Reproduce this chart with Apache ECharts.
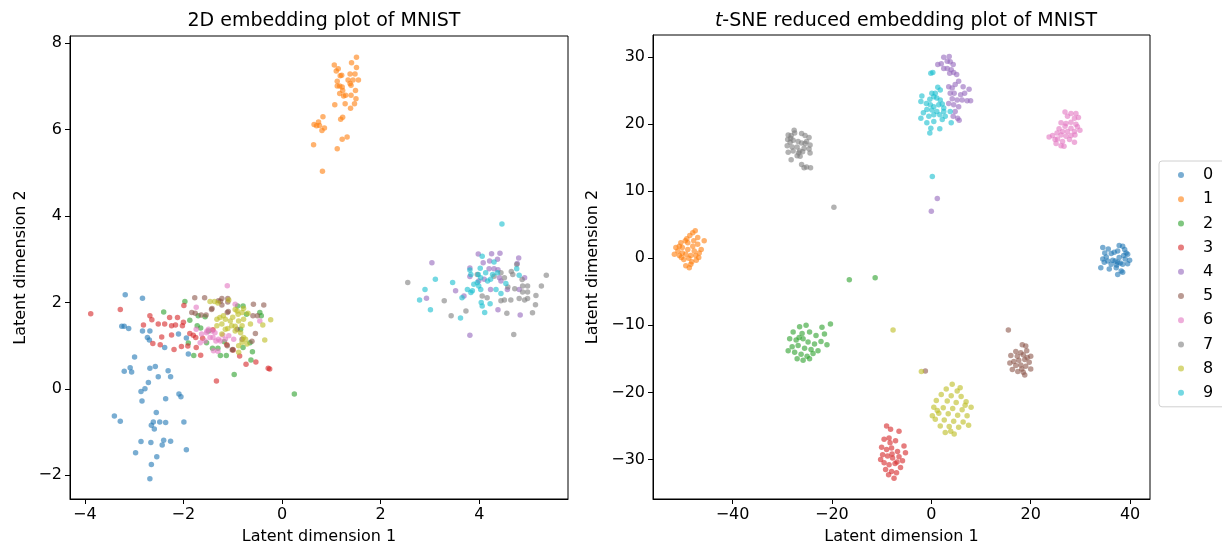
<!DOCTYPE html>
<html>
<head>
<meta charset="utf-8">
<script src="https://cdn.jsdelivr.net/npm/echarts@6/dist/echarts.min.js"></script>
<style>
  html, body { margin: 0; padding: 0; background: #fff; }
  #chart { width: 1222px; height: 550px; }
</style>
</head>
<body>
<div id="chart"></div>
<script>
// Digit classes and their colours (tab10)
const classes = ['0', '1', '2', '3', '4', '5', '6', '7', '8', '9'];
const colors = ['#1f77b4', '#ff7f0e', '#2ca02c', '#d62728', '#9467bd',
                '#8c564b', '#e377c2', '#7f7f7f', '#bcbd22', '#17becf'];

// Tick values
const leftXTicks = [-4, -2, 0, 2, 4];
const leftYTicks = [-2, 0, 2, 4, 6, 8];
const rightXTicks = [-40, -20, 0, 20, 40];
const rightYTicks = [-30, -20, -10, 0, 10, 20, 30];

// ---- 2D latent embedding, one array per digit ----
const latent0 = [[-3.18,2.18],[-2.83,2.10],[-3.25,1.45],[-3.20,1.45],[-3.11,1.40],[-2.83,1.34],[-2.68,1.34],[-2.73,1.19],[-2.69,1.13],[-2.38,0.96],[-2.10,1.27],[-1.94,1.18],[-1.90,0.81],[-2.99,0.74],[-3.20,0.41],[-3.08,0.49],[-3.05,0.39],[-2.68,0.48],[-2.57,0.52],[-2.31,0.42],[-2.51,0.28],[-2.26,0.28],[-2.71,0.15],[-2.78,0.00],[-2.86,-0.06],[-2.84,-0.28],[-2.36,-0.23],[-2.09,-0.12],[-2.05,-0.18],[-3.40,-0.63],[-3.28,-0.75],[-2.55,-0.55],[-2.61,-0.77],[-2.65,-0.84],[-2.59,-0.93],[-2.48,-0.77],[-2.36,-0.78],[-1.99,-0.77],[-2.86,-1.22],[-2.66,-1.24],[-2.40,-1.19],[-2.43,-1.30],[-2.26,-1.21],[-2.97,-1.48],[-1.94,-1.41],[-2.54,-1.57],[-2.65,-1.75],[-2.68,-2.08]];
const latent1 = [[1.51,7.68],[1.41,7.55],[1.06,7.50],[1.51,7.44],[1.14,7.41],[1.10,7.36],[1.38,7.29],[1.48,7.29],[1.21,7.26],[1.18,7.25],[1.34,7.15],[1.44,7.15],[1.55,7.15],[1.12,7.12],[1.38,7.07],[1.12,7.01],[1.17,7.01],[1.22,6.99],[1.40,7.03],[1.23,6.91],[1.49,6.91],[1.17,6.84],[1.40,6.80],[1.25,6.78],[1.29,6.80],[1.50,6.72],[1.07,6.58],[1.28,6.60],[1.47,6.60],[1.39,6.50],[0.83,6.30],[1.23,6.29],[1.19,6.24],[0.74,6.18],[0.65,6.12],[0.70,6.09],[0.76,6.10],[0.86,6.04],[0.81,5.98],[1.32,5.83],[1.22,5.78],[0.64,5.65],[1.12,5.56],[0.82,5.04]];
const latent2 = [[-1.97,2.02],[-2.40,1.78],[-1.87,1.59],[-1.72,1.46],[-1.65,1.41],[-1.53,1.07],[-1.90,1.06],[-1.79,0.77],[-1.41,0.94],[-1.25,0.77],[-0.79,1.92],[-0.72,1.73],[-0.45,1.77],[-0.42,1.69],[-0.65,1.07],[-0.79,0.96],[-0.60,0.86],[-0.63,0.67],[-0.97,0.33],[0.25,-0.12],[-0.90,1.92],[-1.17,1.09],[-0.84,1.38],[-1.49,1.34],[-1.70,1.69],[-1.56,1.67],[-1.30,0.94],[-1.13,0.77]];
const latent3 = [[-3.88,1.74],[-3.28,1.84],[-2.68,1.69],[-2.64,1.60],[-2.81,1.48],[-2.51,1.50],[-2.38,1.50],[-2.28,1.65],[-2.12,1.65],[-2.00,1.54],[-2.02,1.46],[-2.24,1.46],[-2.16,1.48],[-2.44,1.20],[-2.24,1.25],[-2.47,1.02],[-2.19,0.91],[-2.04,0.98],[-1.91,0.99],[-1.87,1.28],[-1.80,1.24],[-1.74,0.96],[-1.65,0.78],[-1.99,1.93],[-1.75,1.19],[-1.61,1.17],[-1.40,1.37],[-1.12,1.02],[-0.99,0.90],[-0.86,0.76],[-0.73,0.57],[-0.53,0.62],[-0.28,0.48],[-0.25,0.46],[-1.33,0.18],[-2.62,1.05]];
const latent4 = [[3.04,2.92],[2.93,2.10],[3.52,2.27],[3.69,2.15],[3.81,2.80],[3.98,3.12],[4.25,3.13],[4.42,3.14],[4.08,2.92],[4.21,2.96],[4.37,3.00],[4.20,2.78],[4.30,2.78],[4.38,2.76],[3.81,2.60],[4.10,2.54],[4.41,2.57],[4.44,2.50],[4.80,3.03],[4.81,2.30],[4.92,2.57],[4.77,2.90],[4.38,1.83],[4.83,1.71],[3.81,1.24],[4.23,2.30],[4.57,2.30],[3.99,2.50]];
const latent5 = [[-1.77,2.11],[-1.57,2.11],[-1.22,2.09],[-1.10,2.09],[-1.29,2.04],[-1.43,1.84],[-1.83,1.77],[-1.76,1.75],[-1.64,1.71],[-1.54,1.71],[-1.11,1.77],[-0.58,1.96],[-0.37,1.94],[-0.50,1.69],[-0.59,1.69],[-0.54,1.28],[-0.61,1.10],[-1.11,1.00],[-1.01,0.90],[-0.81,1.15],[-0.91,1.38],[-1.10,2.01],[-1.42,1.86],[-1.25,2.03],[-1.22,1.94],[-1.09,1.79],[-1.00,0.91]];
const latent6 = [[-1.11,2.39],[-1.74,1.89],[-0.95,1.96],[-0.45,1.57],[-1.49,1.38],[-1.42,1.34],[-1.53,1.30],[-1.36,1.30],[-1.46,1.19],[-1.56,1.11],[-1.29,1.15],[-1.15,1.15],[-1.08,1.23],[-0.98,1.15],[-1.39,0.88],[-1.30,0.87],[-1.66,1.07],[-1.63,1.27],[-1.74,1.38],[-1.52,1.34],[-1.40,1.19],[-1.34,1.11],[-1.25,1.11],[-1.20,1.25]];
const latent7 = [[2.55,2.46],[3.29,2.04],[3.43,1.69],[3.73,1.80],[3.96,2.65],[4.06,2.15],[4.16,2.11],[4.30,2.61],[4.44,2.69],[4.51,2.57],[4.58,2.36],[4.51,2.06],[4.44,2.04],[4.65,2.72],[4.68,2.65],[4.76,2.88],[4.72,2.32],[4.88,2.38],[4.98,2.38],[4.88,2.24],[4.98,2.24],[4.81,2.09],[4.92,2.06],[4.98,2.09],[5.15,2.16],[5.26,2.38],[5.36,2.63],[5.14,1.95],[5.08,1.76],[4.56,1.75],[4.70,1.26],[4.64,2.06],[4.87,2.53]];
const latent8 = [[-1.46,2.02],[-1.37,2.02],[-1.30,1.99],[-1.08,2.06],[-0.95,1.84],[-0.91,1.80],[-0.89,1.73],[-0.81,1.77],[-0.78,1.86],[-0.69,1.75],[-1.26,1.65],[-1.15,1.61],[-1.05,1.57],[-0.88,1.57],[-0.78,1.61],[-1.22,1.50],[-1.02,1.46],[-0.81,1.46],[-1.32,1.46],[-1.15,1.38],[-0.95,1.34],[-0.84,1.30],[-0.74,1.15],[-0.81,1.08],[-0.88,1.00],[-1.19,1.69],[-1.32,1.61],[-0.64,1.50],[-0.23,1.60],[-0.39,1.48],[-0.35,1.13],[-0.88,0.85],[-0.78,1.19],[-0.71,1.04],[-1.22,1.27],[-1.00,1.66],[-0.95,1.45],[-1.10,1.40]];
const latent9 = [[4.46,3.82],[3.11,2.54],[2.90,2.30],[2.79,2.06],[3.01,1.83],[3.46,2.46],[3.65,2.11],[3.62,1.64],[3.81,2.75],[3.83,2.65],[4.02,2.79],[4.06,3.07],[3.98,2.65],[4.03,2.57],[4.13,2.69],[4.23,2.54],[4.30,2.94],[4.37,2.69],[4.34,2.30],[3.99,2.38],[3.89,2.42],[3.86,2.27],[3.76,2.30],[4.04,2.00],[4.06,1.92],[4.11,1.77],[4.22,1.97],[4.44,2.21],[4.54,2.44],[4.76,2.78],[4.81,2.63],[3.83,2.23],[3.96,2.46],[4.27,2.65],[4.17,2.50],[4.03,2.30]];

// ---- t-SNE embedding, one array per digit ----
const tsne0 = [[34.5,1.6],[35.6,1.4],[37.8,1.9],[38.5,1.8],[34.9,0.8],[36.2,0.7],[37.5,1.1],[38.9,1.3],[39.5,0.6],[34.5,-0.1],[35.5,-0.4],[36.5,-0.3],[37.8,0.1],[39.0,-0.1],[39.9,-0.3],[34.8,-0.6],[36.2,-0.9],[37.5,-0.6],[38.5,-0.9],[39.5,-0.8],[34.1,-1.4],[35.8,-1.6],[37.2,-1.4],[38.2,-1.9],[37.5,-2.4],[38.5,-2.1],[37.0,-0.4],[38.0,-0.7],[35.2,0.2],[39.2,0.8],[36.8,0.9],[38.7,0.4],[37.3,-1.0]];
const tsne1 = [[-47.5,4.1],[-48.0,3.8],[-48.6,3.4],[-47.0,3.1],[-45.7,2.6],[-49.5,2.6],[-50.4,2.3],[-50.7,1.8],[-51.4,1.6],[-50.1,1.6],[-49.0,1.3],[-48.0,1.8],[-47.0,2.1],[-46.3,1.3],[-46.7,0.8],[-51.7,0.6],[-50.7,0.4],[-49.4,0.6],[-48.4,0.4],[-47.4,0.4],[-46.8,0.1],[-49.4,-1.1],[-48.7,-1.4],[-48.4,-0.9],[-51.0,1.1],[-50.1,0.8],[-49.0,2.3],[-47.7,1.1],[-49.8,-0.2],[-48.2,-0.5],[-47.3,-0.3],[-50.3,0.1],[-49.2,2.9],[-47.8,2.6],[-48.8,0.0]];
const tsne2 = [[-26.5,-10.2],[-25.2,-10.0],[-22.0,-10.3],[-20.3,-9.8],[-27.8,-11.0],[-26.0,-11.2],[-24.5,-11.0],[-23.2,-11.5],[-21.5,-11.3],[-28.5,-12.0],[-27.2,-12.2],[-25.8,-12.0],[-24.8,-12.5],[-23.5,-12.8],[-22.2,-12.4],[-28.0,-13.2],[-26.8,-13.0],[-25.5,-13.4],[-24.2,-13.6],[-22.8,-13.8],[-27.5,-14.0],[-26.2,-14.3],[-25.0,-14.6],[-23.8,-14.2],[-27.0,-15.0],[-25.8,-15.2],[-24.5,-15.0],[-28.8,-13.8],[-26.6,-11.8],[-21.0,-12.9],[-16.5,-3.2],[-11.3,-2.9]];
const tsne3 = [[-9.0,-25.0],[-8.2,-25.5],[-6.5,-25.8],[-9.5,-27.0],[-8.5,-26.8],[-7.2,-27.2],[-5.5,-28.0],[-10.0,-28.2],[-9.0,-28.5],[-8.0,-28.3],[-6.8,-28.8],[-9.8,-29.3],[-8.8,-29.5],[-7.8,-29.8],[-6.5,-29.6],[-5.8,-30.2],[-9.5,-30.5],[-8.5,-30.8],[-7.3,-30.6],[-6.2,-31.2],[-9.2,-31.5],[-8.0,-31.8],[-7.0,-32.0],[-8.6,-32.3],[-7.5,-32.8],[-10.2,-30.0],[-7.9,-29.2],[-6.9,-30.4],[-8.3,-27.5],[-5.2,-29.0]];
const tsne4 = [[2.5,30.0],[3.6,30.1],[1.3,28.9],[2.0,29.0],[3.2,29.4],[3.8,29.3],[4.4,28.9],[2.5,28.3],[3.2,28.3],[4.0,28.1],[4.5,27.7],[3.7,27.6],[5.1,27.4],[3.5,25.6],[4.2,25.4],[4.8,25.9],[5.5,26.4],[6.4,25.6],[7.6,25.2],[3.8,24.6],[4.6,24.6],[5.9,24.4],[6.7,24.6],[5.2,23.6],[6.2,23.6],[7.2,23.5],[7.9,23.5],[4.2,23.8],[3.5,23.1],[4.5,22.9],[5.5,22.6],[4.8,21.9],[4.4,21.2],[5.3,20.9],[5.6,20.6],[1.2,8.9],[0.0,7.0]];
const tsne5 = [[18.3,-12.9],[19.0,-13.1],[17.0,-13.9],[18.0,-14.1],[19.2,-13.8],[16.0,-14.5],[17.3,-14.6],[18.5,-14.4],[20.0,-14.6],[16.6,-15.4],[17.6,-15.2],[18.8,-15.1],[19.7,-15.5],[15.8,-15.6],[17.0,-16.0],[18.0,-15.9],[19.0,-16.1],[20.0,-16.5],[16.3,-16.6],[17.4,-16.9],[18.5,-17.0],[18.8,-17.4],[18.2,-16.5],[19.3,-14.8],[15.5,-10.7],[-1.2,-16.8]];
const tsne6 = [[26.9,21.8],[28.1,21.6],[29.1,21.6],[27.4,21.2],[28.8,20.9],[29.6,21.0],[26.1,20.2],[27.1,20.1],[28.1,20.3],[29.1,20.0],[26.9,19.7],[28.1,19.4],[29.4,19.6],[25.7,19.3],[26.4,18.9],[27.4,18.9],[28.8,18.9],[29.9,19.1],[25.3,18.7],[26.1,18.4],[27.1,18.2],[28.1,18.3],[28.9,18.4],[23.7,18.1],[24.4,18.3],[25.4,17.8],[26.4,17.4],[27.8,17.7],[28.8,17.3],[25.1,17.1],[26.1,16.8],[26.7,16.7],[24.9,17.7]];
const tsne7 = [[-27.6,19.1],[-28.8,18.4],[-28.2,18.3],[-26.1,18.6],[-25.4,18.3],[-24.6,18.0],[-25.1,17.4],[-24.4,16.9],[-28.9,17.7],[-28.4,17.3],[-27.8,17.6],[-26.8,17.4],[-26.1,17.2],[-25.4,17.1],[-29.0,16.8],[-28.0,16.6],[-27.0,16.6],[-25.6,16.4],[-24.6,16.3],[-28.8,15.8],[-27.8,16.0],[-26.7,15.7],[-27.0,15.3],[-26.4,15.2],[-24.4,15.7],[-28.2,14.7],[-26.1,14.0],[-25.1,13.6],[-24.3,13.5],[-25.6,13.5],[-27.5,18.7],[-26.5,16.0],[-25.9,15.9],[-28.3,17.9],[-19.6,7.6]];
const tsne8 = [[4.2,-18.8],[3.0,-19.5],[5.2,-19.8],[2.0,-20.3],[4.0,-20.5],[6.0,-20.6],[1.0,-21.2],[3.2,-21.3],[5.0,-21.5],[7.0,-21.4],[0.5,-22.2],[2.4,-22.3],[4.3,-22.4],[6.2,-22.6],[8.0,-22.2],[1.5,-23.1],[3.4,-23.2],[5.3,-23.4],[7.2,-23.5],[0.8,-24.0],[2.6,-24.1],[4.5,-24.3],[6.4,-24.4],[1.8,-25.0],[3.6,-25.1],[5.5,-25.2],[7.5,-24.9],[2.8,-26.0],[4.6,-26.2],[3.9,-25.8],[1.2,-22.7],[6.8,-21.9],[0.2,-23.5],[5.8,-19.3],[-7.7,-10.7],[-2.0,-16.9]];
const tsne9 = [[0.3,27.7],[-0.1,27.6],[1.3,25.5],[1.8,25.1],[0.1,24.6],[0.8,24.6],[0.5,24.1],[1.1,23.9],[1.8,23.6],[-0.3,23.7],[-1.0,23.1],[-1.9,24.2],[-2.1,23.4],[-0.2,22.9],[0.5,22.6],[1.5,22.9],[2.2,23.0],[2.5,22.4],[-0.9,22.2],[0.1,22.1],[1.1,21.9],[-1.6,21.7],[-0.5,21.2],[0.5,21.4],[1.7,21.4],[2.5,21.9],[2.2,20.7],[0.5,20.4],[-0.9,20.2],[-2.1,20.9],[-0.1,19.4],[-0.3,18.7],[1.7,19.3],[4.0,20.2],[2.8,21.2],[3.8,21.9],[0.2,12.2]];

const latentData = [latent0, latent1, latent2, latent3, latent4, latent5, latent6, latent7, latent8, latent9];
const tsneData = [tsne0, tsne1, tsne2, tsne3, tsne4, tsne5, tsne6, tsne7, tsne8, tsne9];

const FONT = 'DejaVu Sans';
const TICK_FONT = 16;
const minus = v => String(v).replace('-', '\u2212');

function axisCommon(ticks) {
  return {
    type: 'value',
    nameLocation: 'middle',
    nameTextStyle: { fontFamily: FONT, fontSize: TICK_FONT, color: '#000' },
    axisLine: { show: true, onZero: false, lineStyle: { color: '#000', width: 1 } },
    splitLine: { show: false },
    axisTick: { show: true, customValues: ticks, length: 5, inside: false, lineStyle: { color: '#000', width: 1 } },
    axisLabel: { customValues: ticks, formatter: minus, fontFamily: FONT, fontSize: TICK_FONT, color: '#000', margin: 8 }
  };
}
function makeXAxis(gridIndex, min, max, ticks) {
  return Object.assign(axisCommon(ticks), {
    gridIndex, min, max, position: 'bottom',
    name: 'Latent dimension 1', nameGap: 30
  });
}
function makeYAxis(gridIndex, min, max, ticks, gap) {
  return Object.assign(axisCommon(ticks), {
    gridIndex, min, max, position: 'left',
    name: 'Latent dimension 2', nameGap: gap, nameRotate: 90
  });
}

const series = [];
classes.forEach((name, i) => {
  [[latentData, 0], [tsneData, 1]].forEach(([src, g]) => {
    series.push({
      name, type: 'scatter', xAxisIndex: g, yAxisIndex: g,
      data: src[i], symbolSize: 5.5,
      itemStyle: { color: colors[i], opacity: 0.6 },
      emphasis: { disabled: true }
    });
  });
});

const chart = echarts.init(document.getElementById('chart'), null, { renderer: 'canvas' });
chart.setOption({
  backgroundColor: '#fff',
  animation: false,
  title: [
    { text: '2D embedding plot of MNIST', left: 319, top: 7, textAlign: 'center',
      textStyle: { fontFamily: FONT, fontSize: 19, fontWeight: 'normal', color: '#000' } },
    { text: '{i|t}-SNE reduced embedding plot of MNIST', left: 901, top: 7, textAlign: 'center',
      textStyle: { fontFamily: FONT, fontSize: 19, fontWeight: 'normal', color: '#000',
        rich: { i: { fontFamily: FONT, fontSize: 19, fontStyle: 'italic', color: '#000' } } } }
  ],
  grid: [
    { left: 70, top: 36, width: 498, height: 465, show: true, borderColor: '#000', borderWidth: 1, backgroundColor: 'transparent' },
    { left: 653, top: 35, width: 497, height: 466, show: true, borderColor: '#000', borderWidth: 1, backgroundColor: 'transparent' }
  ],
  xAxis: [makeXAxis(0, -4.3, 5.8, leftXTicks), makeXAxis(1, -56, 44, rightXTicks)],
  yAxis: [makeYAxis(0, -2.55, 8.17, leftYTicks, 41), makeYAxis(1, -35.9, 33.3, rightYTicks, 52)],
  legend: {
    data: classes, orient: 'vertical', left: 1159, top: 161,
    icon: 'circle', itemWidth: 6, itemHeight: 6, itemGap: 8.2,
    padding: [6, 24, 6, 19],
    borderColor: '#d0d0d0', borderWidth: 1, borderRadius: 3, backgroundColor: '#fff',
    textStyle: { fontFamily: FONT, fontSize: TICK_FONT, color: '#000', lineHeight: 16, padding: [0, 0, 0, 14] },
    selectedMode: false
  },
  series
});
</script>
</body>
</html>
